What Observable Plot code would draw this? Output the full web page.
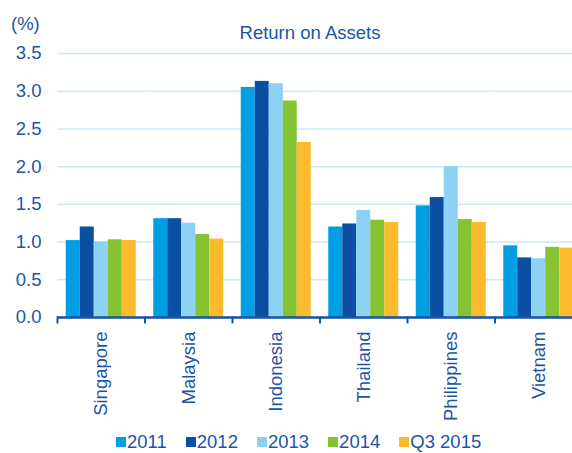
<!DOCTYPE html>
<html>
<head>
<meta charset="utf-8">
<script src="https://cdn.jsdelivr.net/npm/d3@7"></script>
<script src="https://cdn.jsdelivr.net/npm/@observablehq/plot@0.6"></script>
<style>
  body { margin: 0; background: #fff; }
  #wrap { position: relative; width: 572px; height: 453px; overflow: hidden; font-family: "Liberation Sans", Arial, sans-serif; color: #1c55a4; }
  #wrap svg.chart { position: absolute; left: 0; top: 0; }
  .ttl { position: absolute; top: 23px; left: 0; width: 620px; text-align: center; font-size: 18.5px; line-height: 20px; }
  .unit { position: absolute; top: 14px; left: 11px; font-size: 18.5px; line-height: 20px; }
  .lg-swatches { position: absolute; left: 116px; top: 435px; margin: 0; font-family: "Liberation Sans", Arial, sans-serif; font-size: 18.5px; line-height: 14px; color: #1c55a4; }
  .lg-swatches-wrap { display: flex; align-items: center; min-height: 14px; height: 14px; }
  .lg-swatch { display: inline-flex; align-items: center; margin-right: 19px; line-height: 14px; height: 14px; }
  .lg-swatch > svg { margin-right: 1px; }
</style>
</head>
<body>
<div id="wrap"></div>
<script>
const title = "Return on Assets";
const unitLabel = "(%)";
const countries = ["Singapore", "Malaysia", "Indonesia", "Thailand", "Philippines", "Vietnam"];
const series = ["2011", "2012", "2013", "2014", "Q3 2015"];
const v2011 = [1.02, 1.31, 3.05, 1.20, 1.48, 0.95];
const v2012 = [1.20, 1.31, 3.13, 1.24, 1.59, 0.79];
const v2013 = [1.00, 1.25, 3.10, 1.42, 2.00, 0.78];
const v2014 = [1.03, 1.10, 2.87, 1.29, 1.30, 0.93];
const vQ32015 = [1.02, 1.04, 2.32, 1.26, 1.26, 0.92];
const yTicks = [0, 0.5, 1.0, 1.5, 2.0, 2.5, 3.0, 3.5];
const colors = ["#009fe3", "#0b4fa2", "#8dd1f3", "#86c332", "#fcbb2d"];

const textColor = "#1c55a4";
const axisColor = "#1753a6";
const gridColor = "#c9eaf8";

const seriesValues = [v2011, v2012, v2013, v2014, vQ32015];
const data = series.flatMap((s, j) => countries.map((c, i) => ({country: c, series: s, value: seriesValues[j][i]})));

const chart = Plot.plot({
  width: 572,
  height: 432,
  marginLeft: 57,
  marginRight: -10,
  marginTop: 53,
  marginBottom: 115,
  className: "chart",
  style: {fontFamily: "'Liberation Sans', Arial, sans-serif", fontSize: "18.5px", color: textColor, background: "transparent", overflow: "hidden"},
  fx: {domain: countries, padding: 0, round: false, label: null},
  x: {domain: series, paddingInner: 0, paddingOuter: 0.625, round: false, axis: null},
  y: {domain: [0, 3.5], ticks: yTicks, label: null},
  color: {domain: series, range: colors},
  marks: [
    Plot.gridY(yTicks, {stroke: gridColor, strokeOpacity: 1, strokeWidth: 1.5}),
    Plot.axisY(yTicks, {tickSize: 0, tickPadding: 16, tickFormat: d3.format(".1f"), fontSize: 18.5, fill: textColor, label: null}),
    Plot.barY(data, {fx: "country", x: "series", y: "value", fill: "series"}),
    Plot.ruleY([0], {stroke: axisColor, strokeWidth: 2.5}),
    Plot.frame({anchor: "left", stroke: axisColor, strokeWidth: 2, insetTop: 264, insetBottom: -5}),
    Plot.axisFx({anchor: "bottom", tickSize: 0, tickRotate: -90, tickPadding: 14, label: null, fontSize: 18.5, fill: textColor})
  ]
});

const wrap = document.getElementById("wrap");
wrap.appendChild(chart);

const t = document.createElement("div");
t.className = "ttl";
t.textContent = title;
wrap.appendChild(t);

const u = document.createElement("div");
u.className = "unit";
u.textContent = unitLabel;
wrap.appendChild(u);

const legend = chart.legend("color", {swatchSize: 10, className: "lg"});
wrap.appendChild(legend);
</script>
</body>
</html>
